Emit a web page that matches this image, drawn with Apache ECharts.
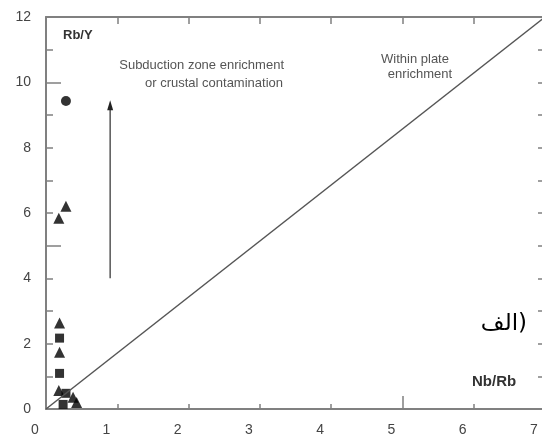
<!DOCTYPE html>
<html>
<head>
<meta charset="utf-8">
<script src="https://cdn.jsdelivr.net/npm/echarts@6/dist/echarts.min.js"></script>
<style>html,body{margin:0;padding:0;background:#fff}#c{width:542px;height:439px}</style>
</head>
<body>
<div id="c"></div>
<script>
// Nb/Rb (x) vs Rb/Y (y)
const circlePts = [[0.28, 9.43]];
const trianglePts = [[0.28, 6.21], [0.18, 5.84], [0.19, 2.63], [0.19, 1.74], [0.18, 0.57], [0.38, 0.36], [0.43, 0.2]];
const squarePts = [[0.19, 2.17], [0.19, 1.09], [0.28, 0.48], [0.24, 0.14]];
const boundaryLine = [[0, 0], [7, 12]];
const arrowPts = [[0.9, 4.0], [0.9, 9.3]];
const xTicks = [0, 1, 2, 3, 4, 5, 6, 7];
const yTicks = [0, 2, 4, 6, 8, 10, 12];

const axisColor = '#808080';
const txt = '#444';
const font = 'Liberation Sans, Arial, sans-serif';

const chart = echarts.init(document.getElementById('c'));
const gridRect = {left: 46, top: 17, width: 499, height: 392, outerBoundsMode: 'none', containLabel: false};
const baseX = {type: 'value', min: 0, max: 7, interval: 1, splitLine: {show: false}};
const baseY = {type: 'value', min: 0, max: 12, interval: 1, splitLine: {show: false}};
const tickStyle = {color: axisColor, width: 1.5};
const lineOn = {onZero: false, lineStyle: {color: axisColor, width: 2}};
const lineOff = {show: false, onZero: false};
const note = (x, y, text, align) => ({type: 'text', x: x, y: y,
  style: {text: text, font: '13px ' + font, fill: '#555', align: align, verticalAlign: 'middle'}});
chart.setOption({
  animation: false,
  grid: [Object.assign({}, gridRect), Object.assign({}, gridRect)],
  xAxis: [
    Object.assign({}, baseX, {
      gridIndex: 0, position: 'bottom', axisLine: lineOn,
      axisTick: {inside: true, length: 5, lineStyle: tickStyle},
      axisLabel: {color: txt, fontSize: 14, fontFamily: font, margin: 14, padding: [0, 22, 0, 0],
        showMaxLabel: true, showMinLabel: true, formatter: v => xTicks.includes(v) ? String(v) : ''}
    }),
    Object.assign({}, baseX, {
      gridIndex: 0, position: 'top', axisLine: lineOn,
      axisTick: {inside: true, length: 7, lineStyle: tickStyle},
      axisLabel: {show: false}
    }),
    Object.assign({}, baseX, {
      gridIndex: 1, position: 'bottom', interval: 5, axisLine: lineOff,
      axisTick: {inside: true, length: 13, lineStyle: tickStyle},
      axisLabel: {show: false}
    })
  ],
  yAxis: [
    Object.assign({}, baseY, {
      gridIndex: 0, position: 'left', axisLine: lineOn,
      axisTick: {inside: true, length: 7, lineStyle: tickStyle},
      axisLabel: {color: txt, fontSize: 14, fontFamily: font, margin: 15,
        showMaxLabel: true, showMinLabel: true, formatter: v => yTicks.includes(v) ? String(v) : ''}
    }),
    Object.assign({}, baseY, {
      gridIndex: 0, position: 'right', axisLine: lineOn,
      axisTick: {inside: true, length: 7, lineStyle: tickStyle},
      axisLabel: {show: false}
    }),
    Object.assign({}, baseY, {
      gridIndex: 1, position: 'left', interval: 5, axisLine: lineOff,
      axisTick: {inside: true, length: 15, lineStyle: tickStyle},
      axisLabel: {show: false}
    })
  ],
  series: [
    {type: 'line', data: boundaryLine, showSymbol: false, lineStyle: {color: '#555', width: 1.5}, silent: true},
    {type: 'line', data: arrowPts.map((p, i) => ({value: p, symbol: i === 0 ? 'none' : 'triangle', symbolSize: [6, 10]})),
      showSymbol: true, lineStyle: {color: '#555', width: 1.5}, itemStyle: {color: '#222'}, silent: true},
    {type: 'scatter', data: circlePts, symbol: 'circle', symbolSize: 10, itemStyle: {color: '#000'}},
    {type: 'scatter', data: trianglePts, symbol: 'triangle', symbolSize: 11, itemStyle: {color: '#000'}},
    {type: 'scatter', data: squarePts, symbol: 'rect', symbolSize: 9, itemStyle: {color: '#000'}},
    {type: 'scatter', xAxisIndex: 2, yAxisIndex: 2, data: [], silent: true}
  ],
  graphic: [
    {type: 'text', x: 63, y: 35, style: {text: 'Rb/Y', font: 'bold 13px ' + font, fill: '#333', verticalAlign: 'middle'}},
    {type: 'text', x: 472, y: 382, style: {text: 'Nb/Rb', font: 'bold 15px ' + font, fill: '#333', verticalAlign: 'middle'}},
    note(284, 65, 'Subduction zone enrichment', 'right'),
    note(283, 83, 'or crustal contamination', 'right'),
    note(415, 59, 'Within plate', 'center'),
    note(420, 74, 'enrichment', 'center'),
    {type: 'text', x: 527, y: 336, style: {text: 'الف)', font: '23px "DejaVu Sans", serif', fill: '#000', align: 'right', verticalAlign: 'bottom'}}
  ]
});
</script>
</body>
</html>
